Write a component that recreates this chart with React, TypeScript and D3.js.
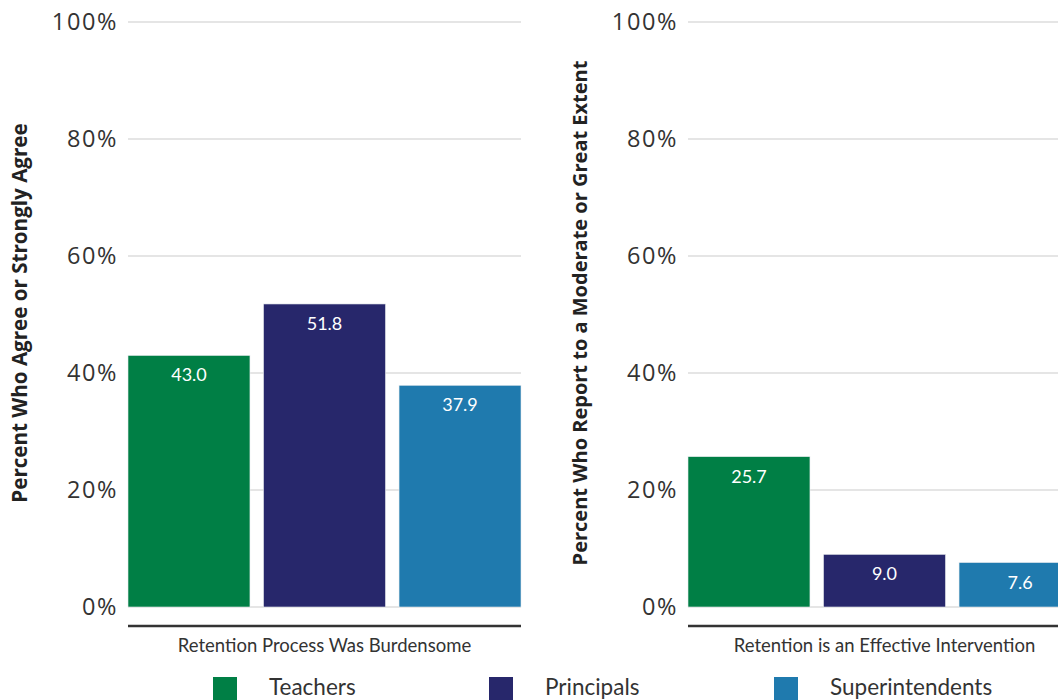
import React from "react";
import * as d3 from "d3";

const groups = ["Teachers", "Principals", "Superintendents"];
const colors = ["#007f45", "#27276b", "#1f7aae"];
const burdensome = [43.0, 51.8, 37.9];
const effective = [25.7, 9.0, 7.6];
const yTicks = [0, 20, 40, 60, 80, 100];
const panelTitles = ["Retention Process Was Burdensome", "Retention is an Effective Intervention"];
const axisTitles = ["Percent Who Agree or Strongly Agree", "Percent Who Report to a Moderate or Great Extent"];

const W = 1058;
const H = 700;

const y = d3.scaleLinear().domain([0, 100]).range([607, 22]);

function Panel({ x0, values, title, axisTitle, titleX, titleSize }: { x0: number; values: number[]; title: string; axisTitle: string; titleX: number; titleSize: number }) {
  const x = d3.scaleBand<string>().domain(groups).range([x0, x0 + 393]).paddingInner(0.1).paddingOuter(0);
  const cx = x0 + 393 / 2;
  return (
    <g>
      {yTicks.map((t) => (
        <g key={t}>
          <line x1={x0} x2={x0 + 393} y1={y(t)} y2={y(t)} stroke="#dcdcdc" strokeWidth={1.5} />
          <text x={x0 - 10} y={y(t)} dy="0.36em" textAnchor="end" fontFamily="'Open Sans', sans-serif" fontSize={23.5} letterSpacing={1.6} fill="#333">
            {t}%
          </text>
        </g>
      ))}
      {values.map((v, i) => (
        <g key={groups[i]}>
          <rect x={x(groups[i])} y={y(v)} width={x.bandwidth()} height={y(0) - y(v)} fill={colors[i]} stroke="#e8ecef" strokeWidth={0.6} />
          <text x={(x(groups[i]) as number) + x.bandwidth() / 2} y={y(v) + 26} textAnchor="middle" fontFamily="Lato, sans-serif" fontSize={18} fill="#fff">
            {v.toFixed(1)}
          </text>
        </g>
      ))}
      <line x1={x0} x2={x0 + 393} y1={626} y2={626} stroke="#333" strokeWidth={2.5} />
      <text x={cx} y={652} textAnchor="middle" fontFamily="Lato, sans-serif" fontSize={18.5} fill="#333">
        {title}
      </text>
      <text
        transform={`translate(${titleX},${313}) rotate(-90)`}
        textAnchor="middle"
        dy="0.35em"
        fontFamily="'Open Sans', sans-serif"
        fontWeight={700}
        fontSize={titleSize}
        fill="#222"
      >
        {axisTitle}
      </text>
    </g>
  );
}

export default function App() {
  const legendX = [213, 489, 774];
  return (
    <svg width={W} height={H} style={{ position: "absolute", left: 0, top: 0, background: "#fff" }}>
      <Panel x0={128} values={burdensome} title={panelTitles[0]} axisTitle={axisTitles[0]} titleX={20} titleSize={20.6} />
      <Panel x0={688} values={effective} title={panelTitles[1]} axisTitle={axisTitles[1]} titleX={580} titleSize={20} />
      {groups.map((g, i) => (
        <g key={g}>
          <rect x={legendX[i]} y={677} width={24} height={26} fill={colors[i]} />
          <text x={legendX[i] + 56} y={695} fontFamily="Lato, sans-serif" fontSize={22.5} fill="#333">
            {g}
          </text>
        </g>
      ))}
    </svg>
  );
}
